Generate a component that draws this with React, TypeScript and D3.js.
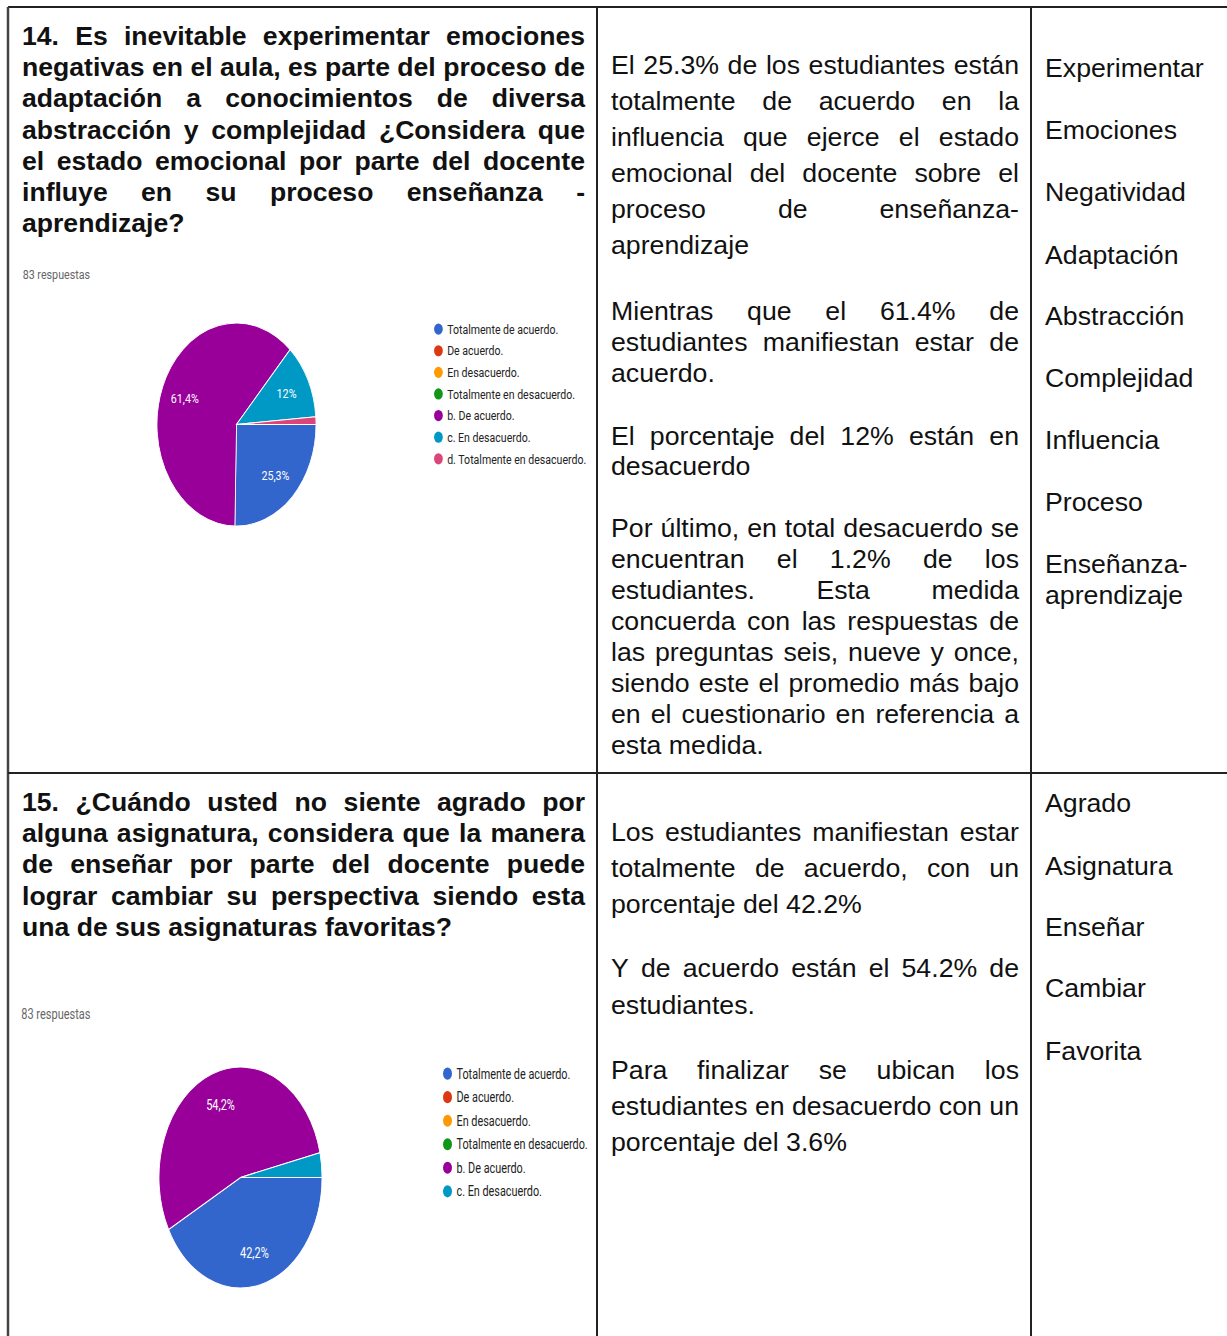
import { useMemo } from "react";
import * as d3 from "d3";

const WIDTH = 1227;
const HEIGHT = 1336;

// pie data
const OPTIONS_14 = [
  "Totalmente de acuerdo.",
  "De acuerdo.",
  "En desacuerdo.",
  "Totalmente en desacuerdo.",
  "b. De acuerdo.",
  "c. En desacuerdo.",
  "d. Totalmente en desacuerdo.",
];
const VALUES_14 = [25.3, 0, 0, 0, 61.4, 12, 1.2];

const OPTIONS_15 = [
  "Totalmente de acuerdo.",
  "De acuerdo.",
  "En desacuerdo.",
  "Totalmente en desacuerdo.",
  "b. De acuerdo.",
  "c. En desacuerdo.",
];
const VALUES_15 = [42.2, 0, 0, 0, 54.2, 3.6];

const COLORS = ["#3366cc", "#dc3912", "#ff9900", "#109618", "#990099", "#0099c6", "#dd4477"];
const RESPONSES = "83 respuestas";

// table text
const QUESTION_14 = [
  "14. Es inevitable experimentar emociones",
  "negativas en el aula, es parte del proceso de",
  "adaptación a conocimientos de diversa",
  "abstracción y complejidad ¿Considera que",
  "el estado emocional por parte del docente",
  "influye en su proceso enseñanza -",
  "aprendizaje?",
];
const QUESTION_15 = [
  "15. ¿Cuándo usted no siente agrado por",
  "alguna asignatura, considera que la manera",
  "de enseñar por parte del docente puede",
  "lograr cambiar su perspectiva siendo esta",
  "una de sus asignaturas favoritas?",
];
const ANALYSIS_14 = [
  [
    "El 25.3% de los estudiantes están",
    "totalmente de acuerdo en la",
    "influencia que ejerce el estado",
    "emocional del docente sobre el",
    "proceso de enseñanza-",
    "aprendizaje",
  ],
  ["Mientras que el 61.4% de", "estudiantes manifiestan estar de", "acuerdo."],
  ["El porcentaje del 12% están en", "desacuerdo"],
  [
    "Por último, en total desacuerdo se",
    "encuentran el 1.2% de los",
    "estudiantes. Esta medida",
    "concuerda con las respuestas de",
    "las preguntas seis, nueve y once,",
    "siendo este el promedio más bajo",
    "en el cuestionario en referencia a",
    "esta medida.",
  ],
];
const ANALYSIS_15 = [
  ["Los estudiantes manifiestan estar", "totalmente de acuerdo, con un", "porcentaje del 42.2%"],
  ["Y de acuerdo están el 54.2% de", "estudiantes."],
  ["Para finalizar se ubican los", "estudiantes en desacuerdo con un", "porcentaje del 3.6%"],
];
const KEYWORDS_14 = [
  ["Experimentar"],
  ["Emociones"],
  ["Negatividad"],
  ["Adaptación"],
  ["Abstracción"],
  ["Complejidad"],
  ["Influencia"],
  ["Proceso"],
  ["Enseñanza-", "aprendizaje"],
];
const KEYWORDS_15 = [["Agrado"], ["Asignatura"], ["Enseñar"], ["Cambiar"], ["Favorita"]];

// layout
const COL = { q: 22, qW: 563, a: 611, aW: 408, k: 1045 };
const GRID = { left: 8, top: 7, col1: 597, col2: 1031, row: 773 };
const Q_LINE = 31.2;
const Q_TOP = [45, 811];
const A_PARAS = [
  [
    { y: 74, lh: 36 },
    { y: 320, lh: 31 },
    { y: 445, lh: 30 },
    { y: 537, lh: 31 },
  ],
  [
    { y: 841, lh: 36 },
    { y: 977, lh: 37 },
    { y: 1079, lh: 36 },
  ],
];
const K_PARAS = [
  [77, 139, 201, 264, 325, 387, 449, 511, 573],
  [812, 875, 936, 997, 1060],
];
const K_LINE = 31;

const SANS = '"Liberation Sans", Arial, sans-serif';
const Q_FONT = `bold 26px ${SANS}`;
const A_FONT = `25px ${SANS}`;

const R = 100;
const CHARTS = [
  { cx: 236.5, cy: 424.5, sx: 0.795, sy: 1.015 },
  { cx: 240.5, cy: 1177.5, sx: 0.815, sy: 1.105 },
];

let ctx: CanvasRenderingContext2D | null = null;
function measure(text: string, font: string) {
  if (!ctx) ctx = document.createElement("canvas").getContext("2d");
  ctx!.font = font;
  return ctx!.measureText(text).width;
}

// horizontal squeeze so the tightest justified line fills the column
function squeeze(paras: string[][], width: number, font: string) {
  const lines = paras.flatMap((p) => p.slice(0, -1));
  return d3.min(lines, (l) => width / measure(l, font)) ?? 1;
}

function Line({ text, x, y, width, font, k, justify, style }) {
  const words = text.split(" ");
  const widths = words.map((w) => measure(w, font) * k);
  const space = measure(" ", font) * k;
  const gap = justify && words.length > 1 ? (width - d3.sum(widths)) / (words.length - 1) : space;
  let cursor = x;
  return (
    <g>
      {words.map((w, i) => {
        const el = (
          <text key={i} x={cursor} y={y} textLength={widths[i]} lengthAdjust="spacingAndGlyphs" style={style}>
            {w}
          </text>
        );
        cursor += widths[i] + gap;
        return el;
      })}
    </g>
  );
}

function Paragraph({ lines, x, y, lh, width, font, k, style }) {
  return (
    <g>
      {lines.map((l, i) => (
        <Line
          key={i}
          text={l}
          x={x}
          y={y + i * lh}
          width={width}
          font={font}
          k={k}
          justify={i < lines.length - 1}
          style={style}
        />
      ))}
    </g>
  );
}

function PieChart({ options, values, cx, cy, sx, sy }) {
  const color = d3.scaleOrdinal<string, string>().domain(options).range(COLORS);
  const rows = options.map((o, i) => ({ option: o, value: values[i] }));
  const arcs = d3
    .pie<any>()
    .sort(null)
    .value((d) => d.value)
    .startAngle(Math.PI / 2)
    .endAngle(Math.PI / 2 + 2 * Math.PI)(rows);
  const arc = d3.arc<any>().innerRadius(0).outerRadius(R);
  const labelArc = d3.arc<any>().innerRadius(R * 0.7).outerRadius(R * 0.7);
  const legendY = d3
    .scalePoint()
    .domain(options)
    .range([-94, -94 + 21.3 * (options.length - 1)]);
  const fmt = (v: number) => `${String(v).replace(".", ",")}%`;

  return (
    <g transform={`translate(${cx},${cy}) scale(${sx},${sy})`}>
      <text x={-269} y={-143} fontFamily="Roboto, sans-serif" fontSize={13.5} fill="#666">
        {RESPONSES}
      </text>
      {arcs
        .filter((a) => a.data.value > 0)
        .map((a) => (
          <path key={a.data.option} d={arc(a) || ""} fill={color(a.data.option)} stroke="#fff" strokeWidth={1} />
        ))}
      {arcs
        .filter((a) => a.data.value >= 5)
        .map((a) => {
          const [lx, ly] = labelArc.centroid(a);
          return (
            <text
              key={a.data.option}
              x={lx}
              y={ly}
              dy="0.35em"
              textAnchor="middle"
              fontFamily="Roboto, sans-serif"
              fontSize={13.5}
              fill="#fff"
            >
              {fmt(a.data.value)}
            </text>
          );
        })}
      {options.map((o) => (
        <g key={o} transform={`translate(254,${legendY(o)})`}>
          <circle r={5.5} fill={color(o)} />
          <text x={11} dy="0.35em" fontFamily="Roboto, sans-serif" fontSize={13.3} fill="#222">
            {o}
          </text>
        </g>
      ))}
    </g>
  );
}

export default function App() {
  const qK = useMemo(() => squeeze([QUESTION_14, QUESTION_15], COL.qW, Q_FONT), []);
  const aK = useMemo(() => squeeze([...ANALYSIS_14, ...ANALYSIS_15], COL.aW, A_FONT), []);

  const qStyle = { fontFamily: SANS, fontWeight: 700, fontSize: 26, fill: "#111" };
  const aStyle = { fontFamily: SANS, fontSize: 25, fill: "#111" };

  const questions = [QUESTION_14, QUESTION_15];
  const analyses = [ANALYSIS_14, ANALYSIS_15];
  const keywords = [KEYWORDS_14, KEYWORDS_15];
  const pies = [
    { options: OPTIONS_14, values: VALUES_14 },
    { options: OPTIONS_15, values: VALUES_15 },
  ];

  return (
    <svg
      width={WIDTH}
      height={HEIGHT}
      viewBox={`0 0 ${WIDTH} ${HEIGHT}`}
      style={{ position: "absolute", left: 0, top: 0, background: "#fff", display: "block" }}
    >
      <rect width={WIDTH} height={HEIGHT} fill="#fff" />

      {/* table grid */}
      <g stroke="#222" strokeWidth={2}>
        <line x1={GRID.left} x2={WIDTH} y1={GRID.top} y2={GRID.top} />
        <line x1={GRID.left} x2={GRID.left} y1={GRID.top} y2={HEIGHT} stroke="#444" strokeWidth={2.5} />
        <line x1={GRID.col1} x2={GRID.col1} y1={GRID.top} y2={HEIGHT} />
        <line x1={GRID.col2} x2={GRID.col2} y1={GRID.top} y2={HEIGHT} />
        <line x1={GRID.left} x2={WIDTH} y1={GRID.row} y2={GRID.row} />
      </g>

      {questions.map((q, r) => (
        <Paragraph
          key={`q-${r}`}
          lines={q}
          x={COL.q}
          y={Q_TOP[r]}
          lh={Q_LINE}
          width={COL.qW}
          font={Q_FONT}
          k={qK}
          style={qStyle}
        />
      ))}

      {pies.map((p, r) => (
        <PieChart key={`pie-${r}`} options={p.options} values={p.values} {...CHARTS[r]} />
      ))}

      {analyses.map((paras, r) =>
        paras.map((lines, i) => (
          <Paragraph
            key={`a-${r}-${i}`}
            lines={lines}
            x={COL.a}
            y={A_PARAS[r][i].y}
            lh={A_PARAS[r][i].lh}
            width={COL.aW}
            font={A_FONT}
            k={aK}
            style={aStyle}
          />
        )),
      )}

      {keywords.map((words, r) =>
        words.map((lines, i) =>
          lines.map((w, j) => (
            <text
              key={`k-${r}-${i}-${j}`}
              x={COL.k}
              y={K_PARAS[r][i] + j * K_LINE}
              textLength={measure(w, A_FONT) * aK}
              lengthAdjust="spacingAndGlyphs"
              style={aStyle}
            >
              {w}
            </text>
          )),
        ),
      )}
    </svg>
  );
}
